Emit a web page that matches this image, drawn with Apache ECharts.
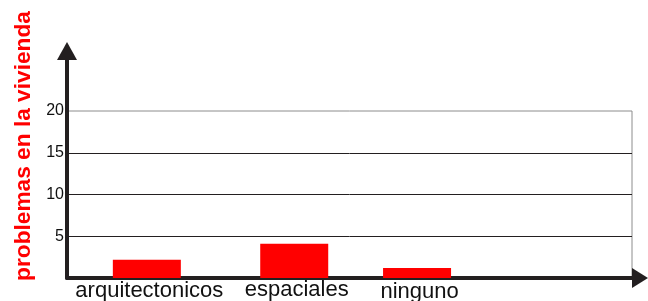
<!DOCTYPE html>
<html>
<head>
<meta charset="utf-8">
<script src="https://cdn.jsdelivr.net/npm/echarts@6/dist/echarts.min.js"></script>
<style>
  html, body { margin: 0; padding: 0; background: #fff; }
  #chart { width: 648px; height: 301px; }
</style>
</head>
<body>
<div id="chart"></div>
<script>
const categories = ['arquitectonicos', 'espaciales', 'ninguno'];
const values = [2.2, 4.1, 1.2];
const yTicks = [0, 5, 10, 15, 20];
const yTitle = 'problemas en la vivienda';

// bars are not evenly spaced in the original, so the x axis uses fine slots
const slotCount = 46;
const slotOf = [6, 18, 28];
// the category labels sit at slightly different heights in the original
const labelDrop = [1, 0, 1.5];

const slotLabels = [];
const slotValues = [];
for (let i = 0; i < slotCount; i++) {
  const k = slotOf.indexOf(i);
  slotLabels.push(k >= 0 ? categories[k] : '');
  slotValues.push(k >= 0 ? values[k] : '-');
}

const ink = '#231f20';
const font = '"Liberation Sans", Arial, sans-serif';

const rich = {};
categories.forEach((c, i) => {
  rich['c' + i] = {fontSize: 22, fontFamily: font, color: '#111', padding: [labelDrop[i], 0, 0, 5]};
});

const chart = echarts.init(document.getElementById('chart'), null, {renderer: 'canvas'});

chart.setOption({
  animation: false,
  backgroundColor: '#fff',
  grid: [
    {left: 67, right: 16, top: 111, bottom: 23, show: true, outerBoundsMode: 'none',
     borderColor: '#8c8c8c', borderWidth: 1, backgroundColor: 'transparent'},
    // only carries the tall y axis with its arrow
    {left: 67, width: 10, top: 51, bottom: 23, outerBoundsMode: 'none'}
  ],
  xAxis: [
    {
      gridIndex: 0,
      type: 'category',
      data: slotLabels,
      boundaryGap: true,
      axisLine: {show: true, lineStyle: {color: ink, width: 4},
        symbol: ['none', 'triangle'], symbolSize: [20, 16], symbolOffset: [0, 8]},
      axisTick: {show: false},
      axisLabel: {
        interval: 0, margin: 1, color: '#111', fontSize: 22, fontFamily: font,
        formatter: v => {
          const k = categories.indexOf(v);
          return k >= 0 ? '{c' + k + '|' + v + '}' : '';
        },
        rich: rich
      },
      splitLine: {show: false}
    },
    {gridIndex: 1, type: 'category', show: false, data: ['']}
  ],
  yAxis: [
    {
      gridIndex: 0,
      type: 'value',
      min: yTicks[0],
      max: yTicks[yTicks.length - 1],
      interval: yTicks[1] - yTicks[0],
      axisLine: {show: false},
      axisTick: {show: false},
      axisLabel: {margin: 3, color: '#111', fontSize: 16, fontFamily: font,
        formatter: v => (v === 0 ? '' : String(v))},
      splitLine: {show: true, showMaxLine: false, lineStyle: {color: ink, width: 1}}
    },
    {
      gridIndex: 1,
      type: 'value',
      min: 0,
      max: 1,
      axisLine: {show: true, lineStyle: {color: ink, width: 4},
        symbol: ['none', 'triangle'], symbolSize: [20, 18]},
      axisTick: {show: false},
      axisLabel: {show: false},
      splitLine: {show: false}
    }
  ],
  graphic: [{
    type: 'text',
    x: 24,
    y: 146,
    rotation: Math.PI / 2,
    style: {
      text: yTitle,
      fill: '#ff0000',
      font: 'bold 22.7px ' + font,
      align: 'center',
      verticalAlign: 'middle',
      textAlign: 'center',
      textVerticalAlign: 'middle'
    }
  }],
  series: [{
    type: 'bar',
    xAxisIndex: 0,
    yAxisIndex: 0,
    data: slotValues,
    barWidth: 68,
    itemStyle: {color: '#ff0000'}
  }]
});
</script>
</body>
</html>
